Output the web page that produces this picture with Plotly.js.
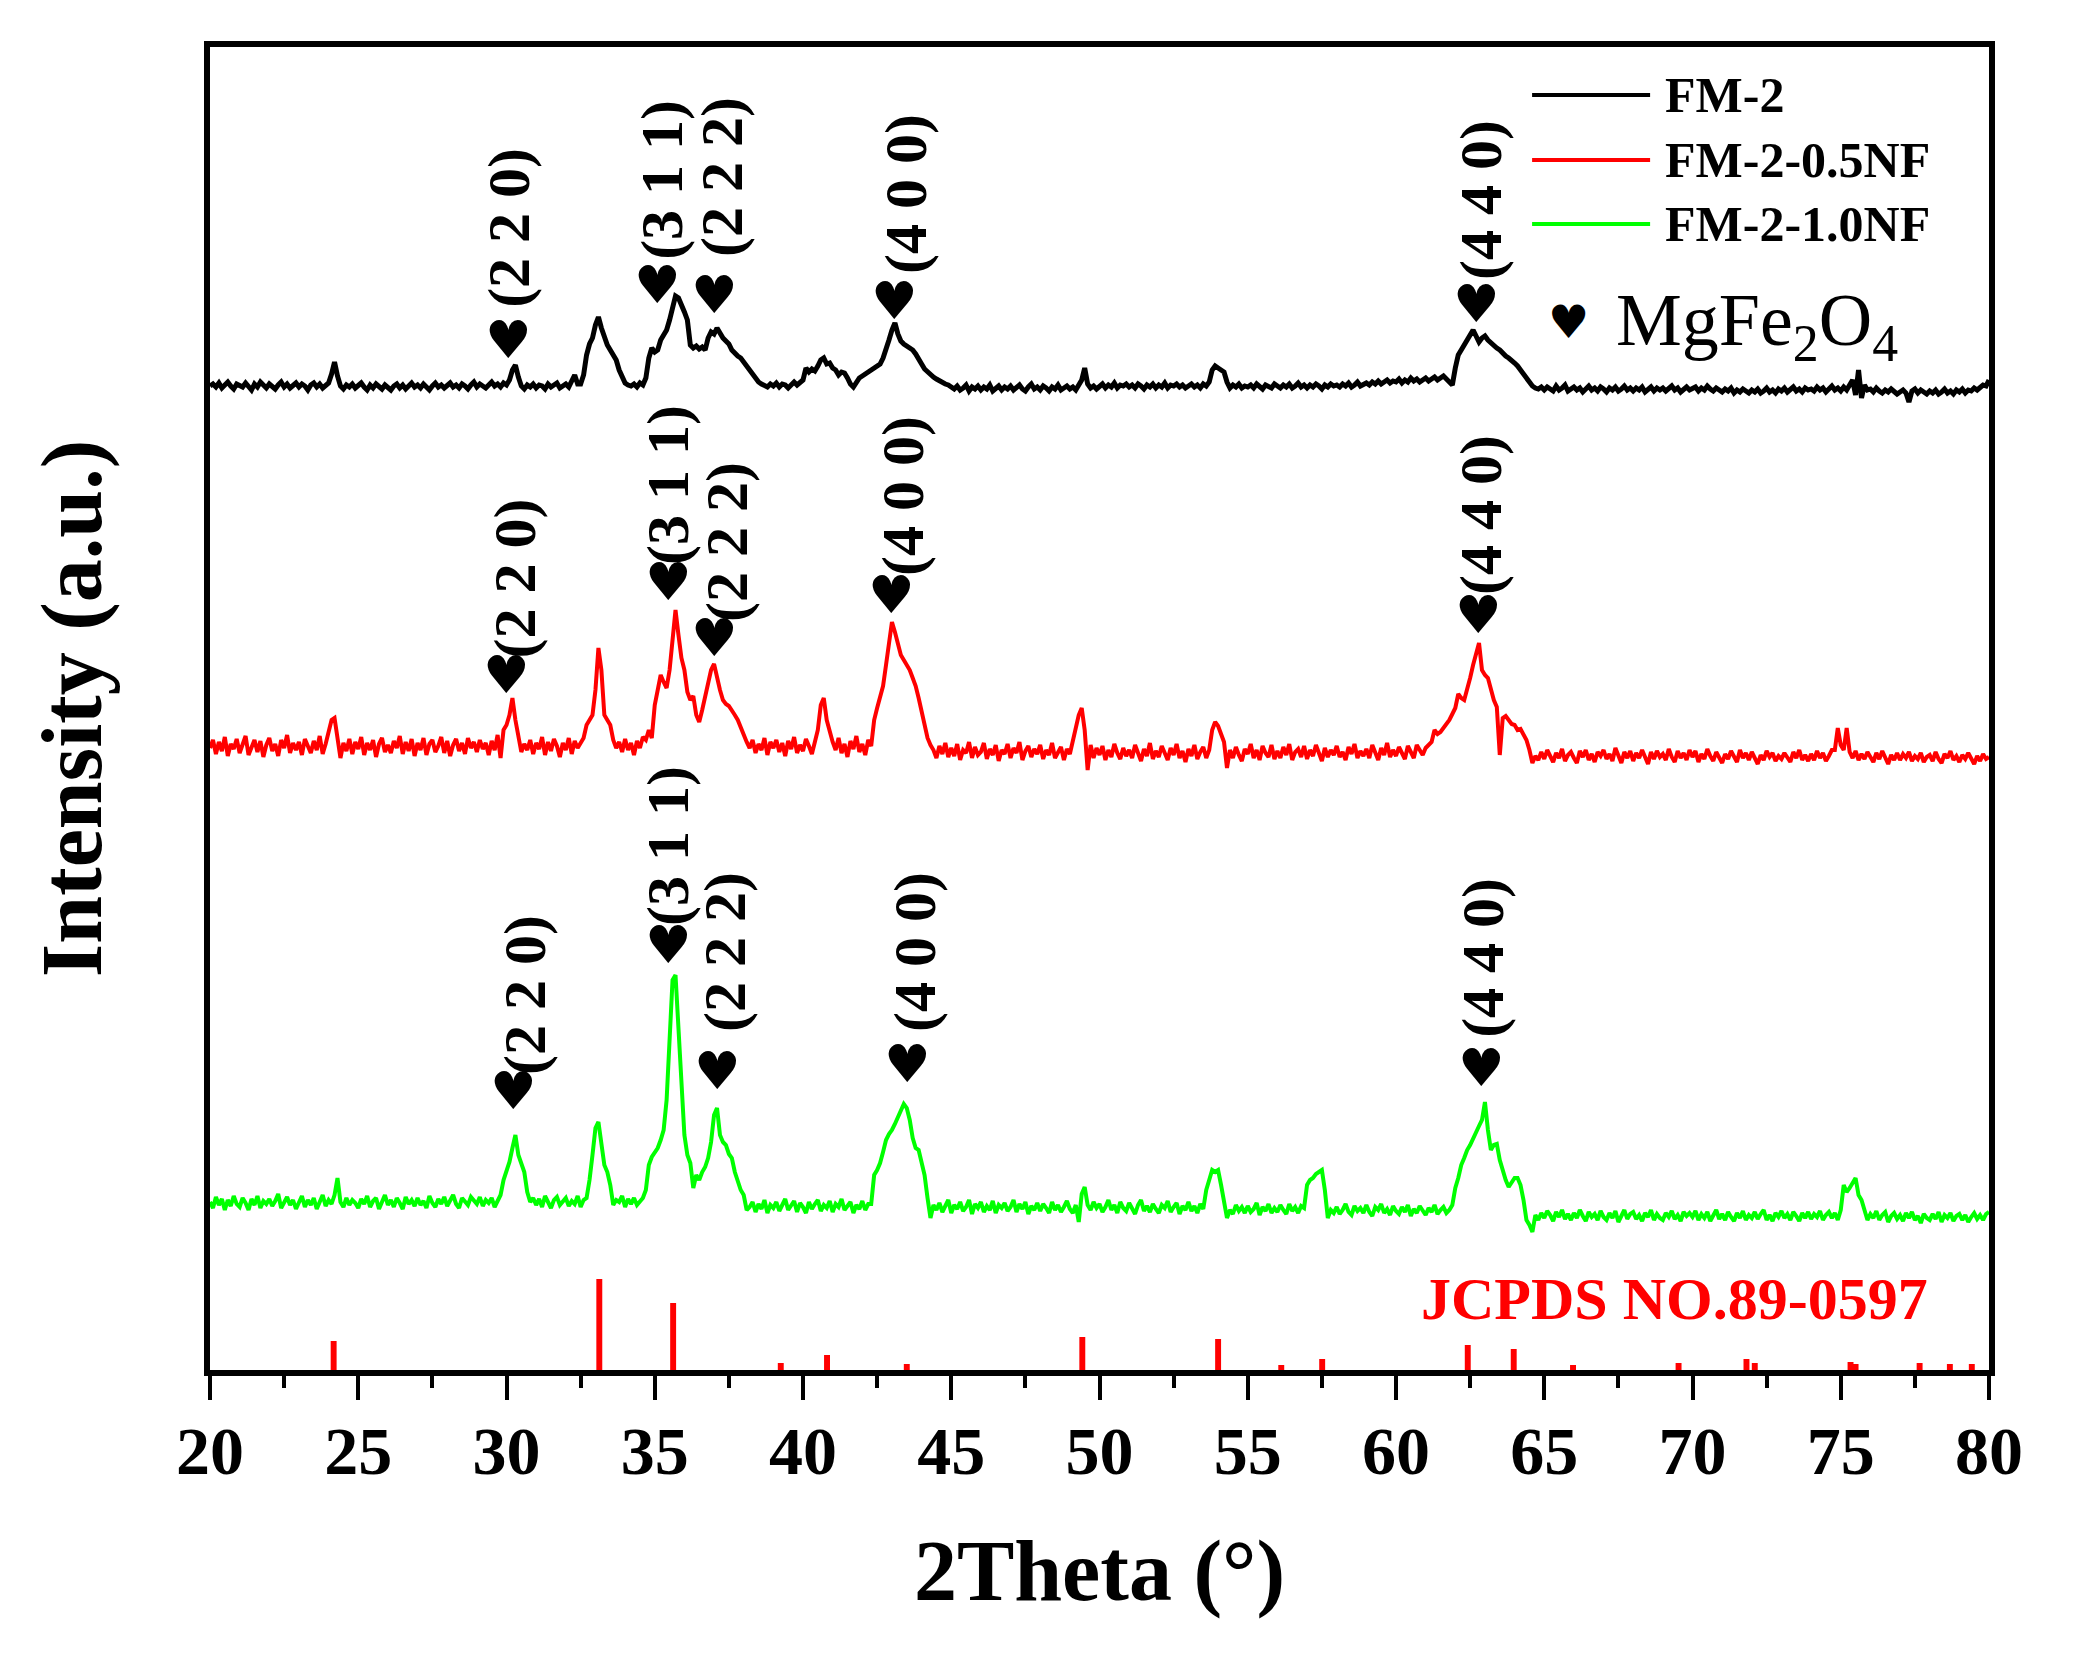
<!DOCTYPE html>
<html>
<head>
<meta charset="utf-8">
<script src="https://cdn.plot.ly/plotly-3.0.1.min.js"></script>
<style>html,body{margin:0;padding:0;background:#fff;}#chart{width:2073px;height:1657px;}</style>
</head>
<body>
<div id="chart"></div>
<script>
// 2Theta sampling grid (degrees)
const thetaStart = 20, thetaStep = 0.1, thetaCount = 601;
const twoTheta = Array.from({length: thetaCount}, (_, i) => +(thetaStart + i * thetaStep).toFixed(1));

// FM-2 (black), values, offset stacking as drawn
const fm2 = [
984,986,983,987,982,985,988,984,981,986,
985,983,987,984,980,986,983,988,984,982,
986,984,981,985,988,983,986,982,985,987,
983,986,984,980,985,987,983,986,982,985,
987,996,1008,994,984,981,985,983,986,982,
984,987,983,980,985,982,986,984,981,985,
983,980,984,986,982,985,981,984,987,983,
985,982,986,983,980,984,987,983,985,982,
984,987,983,985,982,986,984,981,985,988,
983,986,984,982,985,988,984,986,983,987,
985,990,1000,1005,993,984,981,985,983,986,
982,985,984,981,986,983,985,987,982,984,
986,983,988,995,986,986,995,1015,1026,1032,
1045,1053,1042,1032,1025,1020,1015,1010,1000,993,
987,985,984,986,983,987,985,992,1012,1022,
1018,1020,1030,1035,1040,1050,1062,1074,1072,1066,
1058,1050,1025,1022,1024,1021,1023,1020,1032,1038,
1036,1042,1036,1032,1029,1026,1020,1016,1014,1012,
1008,1004,1000,995,991,988,986,985,983,986,
984,987,983,986,985,982,986,988,985,987,
990,1002,998,1001,999,1004,1010,1012,1006,1007,
1002,1000,995,998,997,992,986,983,988,992,
994,996,999,1001,1003,1005,1006,1012,1020,1030,
1040,1047,1036,1029,1026,1024,1022,1020,1016,1010,
1006,1001,998,996,993,991,989,988,986,985,
983,981,984,980,982,985,979,983,981,984,
980,983,981,985,979,982,984,980,983,981,
984,980,982,985,981,979,983,986,981,983,
980,984,982,979,983,981,985,980,982,984,
981,983,980,984,990,1002,986,982,984,981,
984,986,982,985,983,987,982,985,984,986,
983,985,982,986,984,981,985,983,986,982,
985,983,987,982,985,984,986,983,985,982,
984,986,983,985,982,986,984,988,1000,1004,
1002,1000,998,988,982,985,983,986,982,984,
983,985,982,986,983,981,985,984,982,986,
984,982,985,983,986,982,984,987,983,985,
982,985,983,986,984,981,985,983,986,984,
985,983,986,984,987,983,985,988,984,986,
987,985,988,986,989,986,988,990,987,989,
988,991,987,990,988,992,989,991,988,990,
992,989,991,993,990,992,994,991,988,985,
1002,1015,1020,1025,1032,1036,1040,1034,1028,1032,
1034,1030,1027,1024,1022,1020,1016,1014,1012,1010,
1007,1004,1000,996,992,987,984,982,981,983,
980,983,981,979,984,980,982,985,979,981,
983,980,982,978,981,984,980,982,979,983,
981,978,982,980,983,979,981,984,980,982,
979,982,980,983,978,981,983,979,982,980,
982,979,981,984,980,982,978,981,983,980,
981,983,979,982,980,984,981,979,982,980,
978,981,979,982,977,980,978,981,979,977,
980,978,981,977,979,982,978,980,977,981,
979,982,978,980,983,979,981,978,982,980,
981,979,983,980,982,978,981,984,980,982,
979,983,980,986,990,975,1000,972,985,980,
981,978,982,979,977,980,978,981,979,976,
978,980,977,968,979,981,977,980,978,976,
979,977,980,976,978,981,977,979,976,980,
978,981,977,980,979,982,980,983,985,984,
990];

// FM-2-0.5NF (red)
const fm2_05NF = [
622,630,616,628,619,633,614,626,621,631,
617,627,634,615,624,630,618,629,613,625,
632,619,626,614,630,622,635,617,627,620,
628,615,631,623,617,629,620,634,616,626,
640,650,652,630,612,627,619,631,616,628,
621,633,615,627,620,630,613,626,632,618,
625,617,629,622,634,616,628,619,631,614,
627,620,632,615,626,630,618,624,633,617,
629,614,625,631,619,627,616,632,622,628,
618,630,621,627,615,629,620,635,612,640,
645,655,672,650,632,618,626,620,630,616,
627,621,633,615,628,619,631,624,613,627,
620,632,616,629,622,628,632,645,650,655,
680,722,700,655,650,645,630,622,628,618,
631,620,627,615,629,622,633,630,640,632,
665,680,695,688,682,700,730,760,735,712,
700,678,670,674,655,648,660,675,690,700,
706,692,680,670,666,664,660,655,650,642,
636,628,622,630,617,626,620,632,615,628,
622,630,618,627,614,629,621,633,617,625,
619,631,624,616,628,640,665,672,650,638,
628,620,632,617,626,613,629,621,634,618,
626,615,630,624,650,662,672,684,705,725,
748,738,725,715,710,705,700,692,684,672,
660,645,632,625,620,612,624,616,627,613,
622,614,626,610,620,617,628,612,623,615,
618,627,611,621,615,625,609,620,616,626,
612,622,617,628,610,619,624,613,621,616,
625,611,620,615,627,612,618,623,610,621,
616,628,640,655,662,640,600,625,612,622,
615,624,610,620,613,626,617,611,622,614,
620,612,625,616,609,621,614,627,611,619,
613,624,617,610,622,615,626,612,619,608,
621,614,625,611,618,623,612,620,640,648,
644,636,628,602,620,612,623,615,609,621,
616,626,612,620,610,624,617,613,625,611,
619,612,623,615,626,610,618,621,613,624,
611,620,614,625,616,609,622,613,620,615,
624,613,618,610,623,616,626,612,619,614,
621,612,625,617,610,622,615,627,613,620,
614,623,616,611,624,618,612,625,619,615,
622,625,628,640,636,638,642,646,650,656,
662,676,672,670,680,692,705,715,727,700,
695,692,680,670,663,615,652,654,650,646,
645,640,641,636,630,620,607,614,610,618,
611,620,613,608,617,612,621,609,615,618,
612,607,619,613,620,610,616,608,618,614,
620,611,616,609,622,613,607,618,612,619,
609,617,612,620,614,606,618,611,619,613,
616,610,621,613,608,619,612,617,610,620,
613,619,608,616,611,621,614,609,618,612,
607,616,611,619,613,608,620,612,617,610,
618,612,606,615,610,619,613,617,609,614,
611,617,613,608,618,612,620,610,615,609,
616,610,619,612,617,609,614,620,620,642,
625,620,642,618,612,619,610,616,611,618,
613,608,617,611,619,612,606,615,610,617,
610,616,612,618,609,614,611,617,608,613,
615,609,618,611,607,616,612,619,610,614,
608,615,611,617,612,606,614,609,616,611,
613];

// FM-2-1.0NF (green)
const fm2_10NF = [
168,162,173,165,171,160,170,164,174,166,
163,172,167,160,171,165,174,162,169,166,
171,164,169,176,162,168,173,165,170,161,
167,174,163,170,165,172,161,169,175,164,
170,166,175,192,168,163,172,165,170,167,
162,171,166,174,163,169,172,161,168,175,
165,170,163,172,167,161,173,166,170,164,
172,165,169,162,174,167,163,171,166,173,
164,170,175,166,162,172,168,165,173,169,
166,173,164,170,167,172,163,169,175,190,
200,208,222,235,215,205,198,178,168,172,
165,171,163,174,168,162,170,173,165,169,
172,164,169,166,174,163,170,172,190,215,
242,248,225,205,198,185,165,170,168,174,
163,171,166,172,165,169,172,180,205,213,
218,222,230,240,270,330,390,395,345,285,
235,215,207,182,195,190,198,203,212,228,
255,262,235,228,225,216,212,198,188,180,
175,160,163,168,158,166,161,170,157,165,
162,168,159,166,171,160,164,169,158,167,
163,157,168,161,166,170,159,165,162,169,
158,166,163,171,160,164,168,157,165,161,
169,160,166,166,195,200,207,218,230,236,
240,246,252,258,266,262,250,232,222,220,
208,195,172,152,165,160,167,158,164,170,
157,165,161,168,159,163,170,156,166,162,
168,158,164,160,169,157,165,162,167,159,
163,170,158,166,161,168,156,164,160,167,
159,166,162,157,168,160,165,158,163,169,
161,157,165,148,176,183,165,160,168,162,
166,158,163,170,160,165,157,168,162,159,
167,161,156,165,170,159,164,158,166,161,
157,165,162,169,158,163,167,156,164,160,
168,159,164,157,166,161,180,190,200,198,
200,185,170,152,160,156,165,159,163,157,
164,158,161,167,155,163,159,166,157,162,
158,165,160,156,166,159,163,157,164,162,
185,190,192,196,198,200,180,152,160,157,
163,156,160,166,158,155,164,159,162,157,
165,158,154,163,160,166,157,161,155,164,
159,156,163,158,165,154,161,157,164,160,
155,162,158,165,156,160,163,157,160,165,
182,192,205,212,220,225,232,238,244,250,
268,240,220,225,226,210,198,190,183,188,
192,192,185,170,150,145,138,155,150,157,
152,159,155,149,158,153,160,151,156,150,
157,152,160,154,149,158,153,156,150,159,
153,150,157,152,159,148,155,160,151,156,
158,151,155,149,157,153,160,150,156,152,
150,157,153,159,151,155,149,158,154,157,
153,159,150,156,152,158,149,155,160,151,
156,150,158,153,149,157,152,159,150,155,
152,158,151,156,160,150,155,149,157,153,
159,152,156,150,158,154,149,157,152,158,
151,156,153,159,150,155,158,152,157,150,
160,185,178,182,188,192,175,170,160,150,
156,152,159,150,155,158,148,154,157,151,
155,149,157,152,158,150,154,147,156,152,
150,156,151,158,148,155,152,157,149,154,
156,150,155,148,153,157,151,155,150,156,
158];

// JCPDS NO.89-0597 reference lines
const jcpdsPos = [24.17, 33.13, 35.62, 39.25, 40.81, 43.5, 49.42, 54.0, 56.13, 57.51, 62.42, 63.97, 65.97, 69.53, 71.82, 72.1, 75.33, 75.5, 77.66, 78.68, 79.42];
const jcpdsInt = [29, 91, 67, 7, 15, 6, 33, 31, 5, 11, 25, 21, 5, 7, 11, 7, 8, 6, 7, 6, 6];

// Peak labels (hkl) and series
const hklLabels = ['(2 2 0)', '(3 1 1)', '(2 2 2)', '(4 0 0)', '(4 4 0)'];
const seriesNames = ['FM-2', 'FM-2-0.5NF', 'FM-2-1.0NF'];
const seriesColors = ['#000000', '#ff0000', '#00ff00'];

const xTicks = [20, 25, 30, 35, 40, 45, 50, 55, 60, 65, 70, 75, 80];

const serif = 'Liberation Serif, Times New Roman, serif';
const heartFont = 'DejaVu Sans, sans-serif';

const traces = [
  {x: twoTheta, y: fm2, name: seriesNames[0], type: 'scatter', mode: 'lines', line: {color: seriesColors[0], width: 5}},
  {x: twoTheta, y: fm2_05NF, name: seriesNames[1], type: 'scatter', mode: 'lines', line: {color: seriesColors[1], width: 4}},
  {x: twoTheta, y: fm2_10NF, name: seriesNames[2], type: 'scatter', mode: 'lines', line: {color: seriesColors[2], width: 4}},
  {x: jcpdsPos, y: jcpdsInt, name: 'JCPDS NO.89-0597', type: 'bar', width: 0.2, marker: {color: '#ff0000', line: {width: 0}}}
];

// label placement (layout positions)
const heartPos = [
  [[30.08,1030],[35.08,1085],[37.03,1075],[43.09,1069],[62.73,1066]],
  [[30.0,695],[35.48,788],[37.0,732],[43.0,775],[62.77,755]],
  [[30.22,279],[35.48,425],[37.13,299],[43.51,306],[62.87,302]]
];
const textPos = [
  [[30.08,1142],[35.24,1190],[37.27,1193],[43.47,1176],[62.87,1170]],
  [[30.3,792],[35.45,885],[37.44,828],[43.37,874],[62.87,855]],
  [[30.62,375],[35.45,524],[37.37,418],[43.78,418],[62.93,412]]
];

const annotations = [];
for (let s = 0; s < 3; s++) {
  for (let k = 0; k < hklLabels.length; k++) {
    annotations.push({x: heartPos[s][k][0], y: heartPos[s][k][1], xref: 'x', yref: 'y', text: '\u2665', showarrow: false,
      xanchor: 'center', yanchor: 'middle', font: {family: heartFont, size: 52, color: '#000'}});
    annotations.push({x: textPos[s][k][0], y: textPos[s][k][1], xref: 'x', yref: 'y', text: hklLabels[k], showarrow: false,
      textangle: -90, xanchor: 'center', yanchor: 'middle', font: {family: serif, size: 60, weight: 'bold', color: '#000'}});
  }
}

// manual legend
const legendY = [1275, 1210, 1146];
const shapes = [];
for (let s = 0; s < 3; s++) {
  shapes.push({type: 'line', xref: 'x', yref: 'y', x0: 64.59, x1: 68.57, y0: legendY[s], y1: legendY[s], line: {color: seriesColors[s], width: 4}});
  annotations.push({x: 69.01, y: legendY[s], xref: 'x', yref: 'y', text: seriesNames[s], showarrow: false, xanchor: 'left', yanchor: 'middle',
    font: {family: serif, size: 50, weight: 'bold', color: '#000'}});
}
annotations.push({x: 65.83, y: 1048, xref: 'x', yref: 'y', text: '\u2665', showarrow: false, xanchor: 'center', yanchor: 'middle',
  font: {family: heartFont, size: 46, color: '#000'}});
annotations.push({x: 67.35, y: 1045, xref: 'x', yref: 'y', text: 'MgFe<sub>2</sub>O<sub>4</sub>', showarrow: false, xanchor: 'left', yanchor: 'middle',
  font: {family: serif, size: 74, color: '#000'}});
annotations.push({x: 69.39, y: 71, xref: 'x', yref: 'y', text: 'JCPDS NO.89-0597', showarrow: false, xanchor: 'center', yanchor: 'middle',
  font: {family: serif, size: 60, weight: 'bold', color: '#ff0000'}});

const layout = {
  width: 2073, height: 1657,
  margin: {l: 210, r: 84, t: 47, b: 287, pad: 0},
  paper_bgcolor: '#ffffff', plot_bgcolor: '#ffffff',
  showlegend: false,
  xaxis: {
    range: [20, 80], tickvals: xTicks, ticktext: xTicks.map(String),
    showgrid: false, zeroline: false, showline: true, mirror: true, linecolor: '#000', linewidth: 6,
    ticks: 'outside', ticklen: 24, tickwidth: 4, tickcolor: '#000', ticklabelstandoff: -8,
    minor: {dtick: 2.5, tick0: 20, ticks: 'outside', ticklen: 12, tickwidth: 4, tickcolor: '#000', showgrid: false},
    tickfont: {family: serif, size: 68, weight: 'bold', color: '#000'},
    title: {text: '2Theta (°)', font: {family: serif, size: 86, weight: 'bold', color: '#000'}, standoff: 54}
  },
  yaxis: {
    range: [0, 1323], showticklabels: false, ticks: '',
    showgrid: false, zeroline: false, showline: true, mirror: true, linecolor: '#000', linewidth: 6,
    title: {text: 'Intensity (a.u.)', font: {family: serif, size: 86, weight: 'bold', color: '#000'}, standoff: 76}
  },
  annotations: annotations,
  shapes: shapes
};

Plotly.newPlot('chart', traces, layout, {displayModeBar: false, responsive: false});
</script>
</body>
</html>
